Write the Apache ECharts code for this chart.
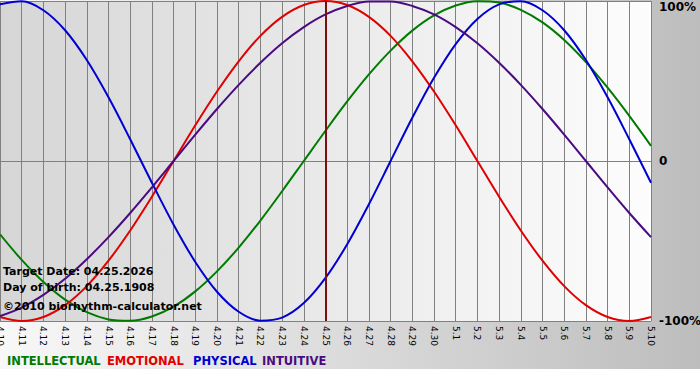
<!DOCTYPE html>
<html><head><meta charset="utf-8">
<script src="https://cdn.jsdelivr.net/npm/echarts@6/dist/echarts.min.js"></script>
<style>html,body{margin:0;padding:0;background:#fff}#c{width:700px;height:380px}</style>
</head><body><div id="c"></div>
<script>
var days = ['4.10','4.11','4.12','4.13','4.14','4.15','4.16','4.17','4.18','4.19','4.20','4.21','4.22','4.23','4.24','4.25','4.26','4.27','4.28','4.29','4.30','5.1','5.2','5.3','5.4','5.5','5.6','5.7','5.8','5.9','5.10'];
var physical     = [97.9,99.8,94.2,81.7,63.1,39.8,13.6,-13.6,-39.8,-63.1,-81.7,-94.2,-99.8,-97.9,-88.8,-73.1,-52.0,-27.0,0,27.0,52.0,73.1,88.8,97.9,99.8,94.2,81.7,63.1,39.8,13.6,-13.6];
var emotional    = [-97.5,-100,-97.5,-90.1,-78.2,-62.3,-43.4,-22.3,0,22.3,43.4,62.3,78.2,90.1,97.5,100,97.5,90.1,78.2,62.3,43.4,22.3,0,-22.3,-43.4,-62.3,-78.2,-90.1,-97.5,-100,-97.5];
var intellectual = [-45.8,-61.8,-75.6,-86.6,-94.5,-99.0,-99.9,-97.2,-91.0,-81.5,-69.0,-54.1,-37.2,-18.9,0,18.9,37.2,54.1,69.0,81.5,91.0,97.2,99.9,99.0,94.5,86.6,75.6,61.8,45.8,28.2,9.5];
var intuitive    = [-96.9,-91.6,-83.7,-73.6,-61.4,-47.6,-32.5,-16.5,0,16.5,32.5,47.6,61.4,73.6,83.7,91.6,96.9,99.7,99.7,96.9,91.6,83.7,73.6,61.4,47.6,32.5,16.5,0,-16.5,-32.5,-47.6];
var targetDay = '4.25';
var yTicks = {'100':'100%','0':'0','-100':'-100%'};
var legendNames = ['INTELLECTUAL','EMOTIONAL','PHYSICAL','INTUITIVE'];
var infoLines = ['Target Date: 04.25.2026','Day of birth: 04.25.1908','\u00a92010 biorhythm-calculator.net'];

var F = '"DejaVu Sans", Verdana, sans-serif';
var colors = ['#007a00','#e00000','#0000d0','#4a0a80'];
var chart = echarts.init(document.getElementById('c'), null, {renderer:'svg'});
function ser(name, data, color, extra){
  var s = {name:name, type:'line', data:data, smooth:0.34, showSymbol:false, symbol:'none',
    lineStyle:{color:color, width:2}, itemStyle:{color:color}, z:3, animation:false};
  if(extra) Object.assign(s, extra);
  return s;
}
var legendX = [7,107,193,262];
var graphics = [
  {type:'rect',left:0,top:369,shape:{width:700,height:11},style:{fill:'#ffffff'},z:-10},
  {type:'text',left:3,top:266,z:10,style:{text:infoLines[0],font:'bold 11px '+F,fill:'#000'}},
  {type:'text',left:3,top:282,z:10,style:{text:infoLines[1],font:'bold 11px '+F,fill:'#000'}},
  {type:'text',left:3,top:301,z:10,style:{text:infoLines[2],font:'bold 11px '+F,fill:'#000'}}
];
legendNames.forEach(function(n,i){
  graphics.push({type:'text',left:legendX[i],top:355,z:10,style:{text:n,font:'bold 11.5px '+F,fill:colors[i]}});
});
chart.setOption({
  animation:false,
  backgroundColor:{type:'linear',x:0,y:0,x2:1,y2:0,colorStops:[{offset:0,color:'#f8f8f8'},{offset:1,color:'#bdbdbd'}]},
  grid:{left:0,right:49,top:1,bottom:59,containLabel:false,outerBoundsMode:'none',show:true,borderWidth:0,
    backgroundColor:{type:'linear',x:0,y:0,x2:1,y2:0,colorStops:[{offset:0,color:'#d6d6d6'},{offset:1,color:'#fdfdfd'}]}},
  xAxis:{type:'category',data:days,boundaryGap:false,
    axisLine:{show:true,lineStyle:{color:'#808080',width:1}},
    axisTick:{show:true,length:4,interval:0,lineStyle:{color:'#808080'}},
    axisLabel:{interval:0,rotate:-90,fontFamily:F,fontSize:9,color:'#000',margin:5,hideOverlap:false},
    splitLine:{show:true,interval:0,lineStyle:{color:'#808080',width:1}}},
  yAxis:{type:'value',position:'right',min:-100,max:100,interval:100,
    axisLine:{show:false},axisTick:{show:false},
    axisLabel:{fontFamily:F,fontSize:12,fontWeight:'bold',color:'#000',margin:8,
      verticalAlignMaxLabel:'top',
      formatter:function(v){return yTicks[String(v)];}},
    splitLine:{show:true,lineStyle:{color:'#808080',width:1}}},
  series:[
    ser(legendNames[0], intellectual, colors[0]),
    ser(legendNames[1], emotional, colors[1], {markLine:{silent:true,symbol:['none','none'],label:{show:false},
      lineStyle:{color:'#7a1010',width:2,type:'solid'},data:[{xAxis:targetDay}],animation:false}}),
    ser(legendNames[2], physical, colors[2]),
    ser(legendNames[3], intuitive, colors[3])
  ],
  graphic:graphics
});
</script></body></html>
